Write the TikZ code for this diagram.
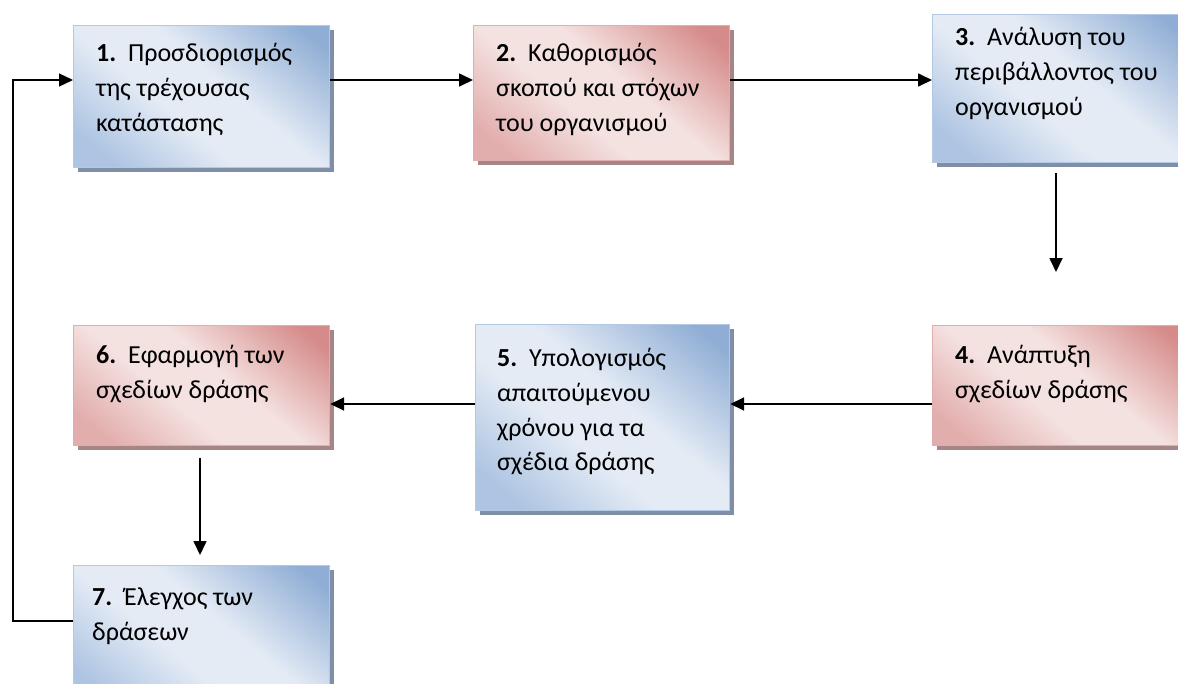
\documentclass[tikz,border=0pt]{standalone}
\usepackage{fontspec}
\setmainfont{Carlito}
\usetikzlibrary{shadows,arrows.meta}
\definecolor{bdark}{HTML}{90AED5}
\definecolor{blight}{HTML}{E4EBF5}
\definecolor{bmid}{HTML}{ADC4E2}
\definecolor{bborder}{HTML}{B3C8E2}
\definecolor{bshadow}{HTML}{7F8FA8}
\definecolor{rdark}{HTML}{D58B89}
\definecolor{rlight}{HTML}{F4E2E1}
\definecolor{rmid}{HTML}{E2AEAD}
\definecolor{rborder}{HTML}{E2AEAD}
\definecolor{rshadow}{HTML}{A58585}
\pgfdeclareverticalshading{bshade}{100bp}{color(0bp)=(bmid); color(22bp)=(bmid); color(42bp)=(blight); color(56bp)=(blight); color(80bp)=(bdark); color(100bp)=(bdark)}
\pgfdeclareverticalshading{rshade}{100bp}{color(0bp)=(rmid); color(22bp)=(rmid); color(42bp)=(rlight); color(56bp)=(rlight); color(80bp)=(rdark); color(100bp)=(rdark)}
\tikzset{
  boxbase/.style={rectangle, inner sep=0pt, line width=1.2pt, anchor=north west},
  bluebox/.style={boxbase, draw=bborder, shading=bshade, shading angle=-40,
    drop shadow={shadow xshift=4pt, shadow yshift=-4pt, fill=bshadow, opacity=1}},
  redbox/.style={boxbase, draw=rborder, shading=rshade, shading angle=-40,
    drop shadow={shadow xshift=4pt, shadow yshift=-4pt, fill=rshadow, opacity=1}},
  boxtext/.style={anchor=north west, inner sep=0pt, align=left, font=\fontsize{26}{34.8}\selectfont, text=black},
  flow/.style={line width=1.7pt, -{Triangle[length=14pt,width=13pt]}},
  loopline/.style={line width=1.4pt, -{Triangle[length=14pt,width=13pt]}},
}
\begin{document}
\begin{tikzpicture}[x=1pt,y=-1pt]
\useasboundingbox (0,0) rectangle (1178,683);
\clip (0,0) rectangle (1178,683);
% boxes
\node[bluebox, minimum width=256pt, minimum height=142pt] (b1) at (73,25) {};
\node[redbox,  minimum width=256pt, minimum height=135pt] (b2) at (473,25) {};
\node[bluebox, minimum width=258pt, minimum height=148pt] (b3) at (932,14) {};
\node[redbox,  minimum width=258pt, minimum height=120pt] (b4) at (932,325) {};
\node[bluebox, minimum width=254pt, minimum height=186pt] (b5) at (475,324) {};
\node[redbox,  minimum width=256pt, minimum height=120pt] (b6) at (73,325) {};
\node[bluebox, minimum width=256pt, minimum height=140pt] (b7) at (73,565) {};
% texts
\node[boxtext] (t1) at (96,43) {\textbf{1.}\ \ Προσδιορισμός\\της τρέχουσας\\κατάστασης};
\node[boxtext] (t2) at (496,43) {\textbf{2.}\ \ Καθορισμός\\σκοπού και στόχων\\του οργανισμού};
\node[boxtext] (t3) at (955,27) {\textbf{3.}\ \ Ανάλυση του\\περιβάλλοντος του\\οργανισμού};
\node[boxtext] (t4) at (955,345) {\textbf{4.}\ \ Ανάπτυξη\\σχεδίων δράσης};
\node[boxtext] (t5) at (497,348) {\textbf{5.}\ \ Υπολογισμός\\απαιτούμενου\\χρόνου για τα\\σχέδια δράσης};
\node[boxtext] (t6) at (96,345) {\textbf{6.}\ \ Εφαρμογή των\\σχεδίων δράσης};
\node[boxtext] (t7) at (92,588) {\textbf{7.}\ \ Έλεγχος των\\δράσεων};
% connector helpers
\coordinate (r1) at (0,80);
\coordinate (r2) at (0,404);
\coordinate (a3s) at (1056,173);
\coordinate (a3e) at (1056,272);
\coordinate (a6s) at (200,458);
\coordinate (a6e) at (200,555);
\coordinate (r7) at (0,621);
\coordinate (lx) at (13,0);
% connectors
\draw[flow] (b1.east |- r1) -- (b2.west |- r1);
\draw[flow] (b2.east |- r1) -- (b3.west |- r1);
\draw[flow] (a3s) -- (a3e);
\draw[flow] (b4.west |- r2) -- (b5.east |- r2);
\draw[flow] (b5.west |- r2) -- (b6.east |- r2);
\draw[flow] (a6s) -- (a6e);
\draw[loopline] (b7.west |- r7) -- (lx |- r7) -- (lx |- r1) -- (b1.west |- r1);
\end{tikzpicture}
\end{document}
